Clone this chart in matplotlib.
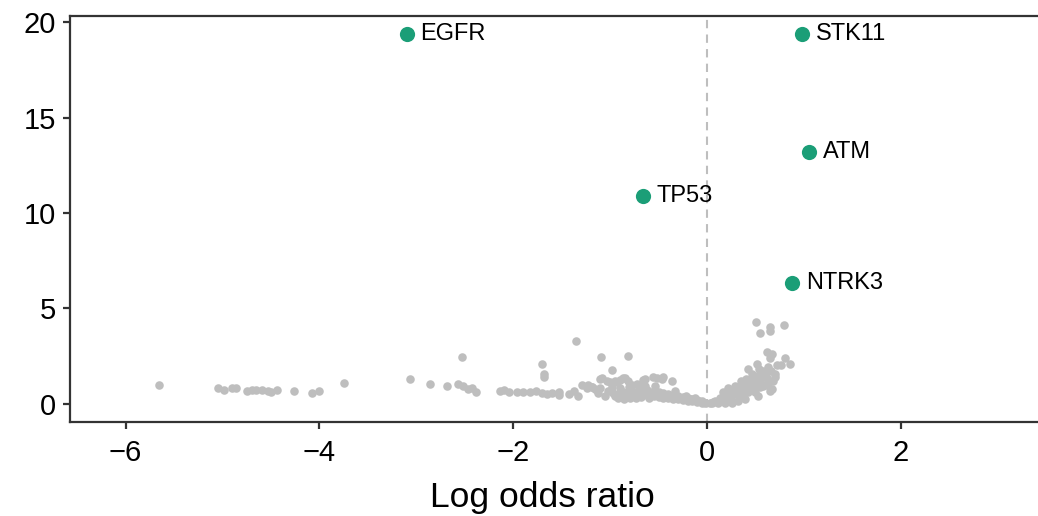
import matplotlib
matplotlib.use("Agg")
import matplotlib.pyplot as plt

plt.rcParams["font.family"] = ["Liberation Sans", "DejaVu Sans"]

# genes that stand out (log odds ratio, -log10 p)
hit_genes = ["EGFR", "STK11", "ATM", "TP53", "NTRK3"]
hit_lor = [-3.10, 0.98, 1.05, -0.66, 0.88]
hit_p = [19.37, 19.37, 13.18, 10.87, 6.35]

# everything else
bg_lor = [
    -5.65, -5.05, -4.98, -4.90, -4.86, -4.75, -4.70, -4.65, -4.59, -4.53,
    -4.50, -4.44, -4.26, -4.08, -4.00, -3.75, -3.06, -2.86, -2.68, -2.53,
    -2.57, -2.52, -2.47, -2.42, -2.38, -2.14, -2.09, -2.04, -1.96, -1.90,
    -1.83, -1.76, -1.70, -1.65, -1.60, -1.53, -1.53, -1.70, -1.68, -1.68,
    -1.35, -1.42, -1.37, -1.33, -1.29, -1.24, -1.19, -1.14, -1.09, -0.82,
    -0.98, -1.08, -1.03, -0.93, -0.87, -0.72, -0.64, -0.56, -0.45, -0.36,
    -1.10, -1.23, -1.19, -1.16, -1.10, -1.00, -0.95, -0.90, -0.85, -0.82,
    -0.66, -0.64, -1.02, -0.97, -0.92, -0.87, -0.82, -0.76, -0.71, -0.66,
    -0.61, -0.92, -0.86, -0.79, -0.73, -0.98, -0.90, -0.80, -0.70, -0.52,
    -0.46, -0.54, -0.62, -0.62, -0.55, -0.55, -0.50, -0.50, -0.45, -0.45,
    -0.40, -0.40, -0.35, -0.35, -0.30, -0.30, -0.25, -0.25, -0.20, -0.20,
    -0.15, -0.15, -0.10, -0.10, -0.05, -0.05, -0.02, -0.58, -0.48, -0.38,
    -0.28, -0.18, -0.08, -1.12, -1.05, -0.95, -0.85, -0.75, -0.68, -0.60,
    -0.77, -0.69, -0.33, -0.22, -0.12,
    0.51, 0.55, 0.65, 0.65, 0.79, 0.62, 0.67, 0.65, 0.81, 0.86,
    0.72, 0.76, 0.70, 0.52, 0.42, 0.46, 0.52, 0.57, 0.62, 0.55,
    0.63, 0.58, 0.50, 0.42, 0.67, 0.53, 0.65, 0.39, 0.32, 0.26,
    0.19, 0.11, 0.05, 0.22, 0.29, 0.32, 0.37, 0.26, 0.19, 0.13,
    0.08, 0.35, 0.40, 0.45, 0.30, 0.36, 0.42, 0.48, 0.55, 0.60,
    0.68, 0.70, 0.58, 0.63, 0.47, 0.14, 0.20, 0.25, 0.03, 0.06,
    0.17, 0.24, 0.34, 0.44, 0.50, 0.60, 0.66, 0.54, 0.38,
]
bg_p = [
    1.00, 0.84, 0.73, 0.80, 0.82, 0.68, 0.70, 0.70, 0.74, 0.68,
    0.62, 0.70, 0.68, 0.58, 0.68, 1.10, 1.30, 1.05, 0.94, 2.47,
    1.05, 0.94, 0.79, 0.84, 0.63, 0.68, 0.72, 0.63, 0.60, 0.60,
    0.60, 0.65, 0.55, 0.50, 0.55, 0.60, 0.45, 2.10, 1.57, 1.42,
    3.30, 0.50, 0.65, 0.42, 0.97, 0.84, 0.89, 0.73, 2.47, 2.52,
    1.78, 1.36, 1.21, 1.15, 1.36, 1.05, 1.31, 1.42, 1.42, 1.21,
    1.31, 1.00, 0.89, 0.79, 0.84, 1.15, 1.21, 1.26, 1.36, 1.21,
    1.26, 0.94, 0.65, 0.55, 0.50, 0.60, 0.52, 0.60, 0.50, 0.58,
    0.65, 0.30, 0.26, 0.30, 0.28, 0.85, 0.80, 0.85, 0.80, 1.36,
    1.31, 0.94, 0.70, 0.45, 0.65, 0.40, 0.60, 0.35, 0.55, 0.32,
    0.50, 0.30, 0.45, 0.25, 0.40, 0.22, 0.35, 0.20, 0.30, 0.15,
    0.25, 0.12, 0.20, 0.08, 0.12, 0.05, 0.05, 0.55, 0.48, 0.38,
    0.30, 0.22, 0.14, 0.55, 0.40, 0.38, 0.42, 0.40, 0.36, 0.30,
    0.95, 1.00, 0.65, 0.40, 0.30,
    4.30, 3.70, 4.00, 3.80, 4.10, 2.70, 2.60, 2.40, 2.40, 2.10,
    2.00, 2.00, 1.57, 2.10, 1.84, 1.57, 1.47, 1.57, 1.36, 1.21,
    1.10, 0.94, 1.05, 1.05, 0.79, 0.42, 0.68, 0.26, 0.16, 0.05,
    0.02, 0.04, 0.03, 0.84, 0.94, 0.68, 0.84, 0.52, 0.42, 0.31,
    0.16, 1.20, 1.30, 1.10, 0.50, 0.45, 0.60, 0.75, 0.85, 1.00,
    1.20, 1.40, 1.70, 1.90, 1.35, 0.20, 0.25, 0.30, 0.03, 0.06,
    0.60, 0.70, 0.80, 0.90, 0.60, 1.50, 1.70, 1.80, 1.00,
]

fig = plt.figure(figsize=(10.38, 5.16), dpi=100)
ax = fig.add_axes([0.0674, 0.182, 0.9326, 0.787])

ax.axvline(0, color="#bebebe", lw=1.5, ls=(0, (4, 3)), zorder=1)
ax.scatter(bg_lor, bg_p, s=38, color="#bebebe", lw=0, zorder=2)
ax.scatter(hit_lor, hit_p, s=120, color="#1b9e77", lw=0, zorder=3)
for g, x, y in zip(hit_genes, hit_lor, hit_p):
    ax.annotate(g, (x, y), xytext=(10, 0), textcoords="offset points",
                ha="left", va="center", fontsize=17, color="black")

ax.set_xlim(-6.574, 3.416)
ax.set_ylim(-0.97, 20.34)
ax.set_xticks([-6, -4, -2, 0, 2])
ax.set_yticks([0, 5, 10, 15, 20])
ax.set_xlabel("Log odds ratio", fontsize=25.5)
ax.xaxis.set_label_coords(0.488, -0.145, transform=ax.transAxes)
ax.xaxis.label.set_va("top")

for side in ["left", "bottom", "top"]:
    ax.spines[side].set_color("#333333")
    ax.spines[side].set_linewidth(1.6)
ax.spines["right"].set_visible(False)
ax.tick_params(axis="both", length=5, width=1.6, color="#333333",
               labelsize=21, labelcolor="black")
ax.tick_params(axis="x", pad=7)
ax.tick_params(axis="y", pad=5)

fig.savefig("out.png", dpi=100)
